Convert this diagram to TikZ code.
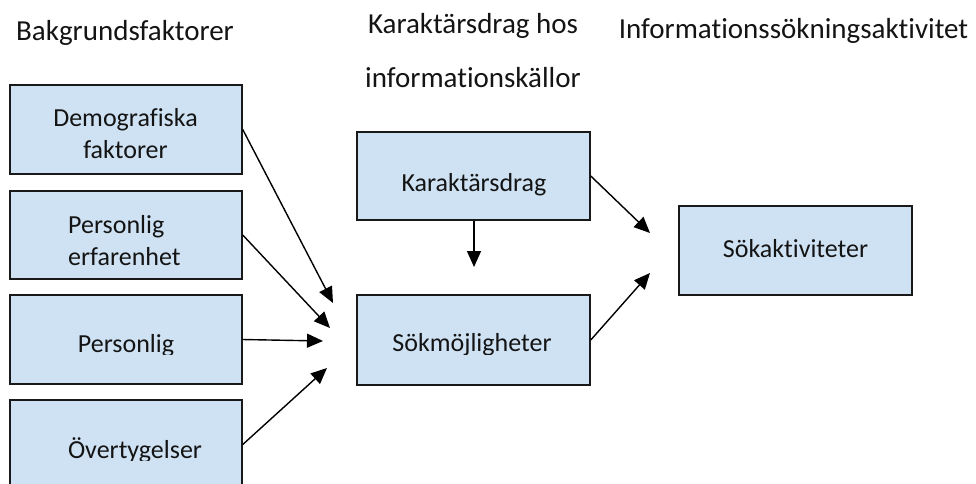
\documentclass[tikz,border=0pt]{standalone}
\usepackage{fontspec}
\setmainfont{Carlito}[Ligatures={NoCommon}]
\usetikzlibrary{arrows.meta}
\definecolor{boxfill}{RGB}{207,226,243}
\definecolor{boxline}{RGB}{25,25,25}
\definecolor{txt}{RGB}{20,20,20}
\tikzset{
  box/.style={draw=boxline, fill=boxfill, line width=1.5pt, rectangle, inner sep=0pt},
  bw/.style={minimum width=232pt},
  boxtxt/.style={font=\fontsize{26}{32}\selectfont, text=txt, anchor=base, inner sep=0pt},
  titletxt/.style={font=\fontsize{29}{35}\selectfont, text=txt, anchor=base, inner sep=0pt},
  arr/.style={draw=black, line width=1.4pt, -{Triangle[length=16pt,width=14pt]}}
}
\begin{document}
\begin{tikzpicture}[x=1pt,y=-1pt]
\clip (0,0) rectangle (976,483);
% titles
\node[titletxt] (h1) at (125,40) {Bakgrundsfaktorer};
\node[titletxt] (h2a) at (473,33) {Karaktärsdrag hos};
\node[titletxt] (h2b) at (473,87) {informationskällor};
\begin{scope}
\clip (600,0) rectangle (976,43);
\node[titletxt] (h3) at (793.5,38) {Informationssökningsaktivitet};
\end{scope}
% boxes
\node[box, bw, minimum height=89pt] (b1) at (126,129.5) {};
\node[box, bw, minimum height=88pt] (b2) at (126,235) {};
\node[box, bw, minimum height=89pt] (b3) at (126,339.5) {};
\node[box, bw, minimum height=89pt] (b4) at (126,444.5) {};
\node[box, minimum width=233pt, minimum height=88pt] (k) at (473.5,176) {};
\node[box, minimum width=233pt, minimum height=90pt] (s) at (473.5,340) {};
\node[box, minimum width=233pt, minimum height=89pt] (a) at (795.5,250.5) {};
% box texts
\node[boxtxt] (t1a) at (125.5,126) {Demografiska};
\node[boxtxt] (t1b) at (125.5,158) {faktorer};
\node[boxtxt, anchor=base west] (t2a) at (68,233) {Personlig};
\node[boxtxt, anchor=base west] (t2b) at (68,265) {erfarenhet};
\begin{scope}
\clip (0,0) rectangle (600,354.5);
\node[boxtxt] (t3) at (126,352) {Personlig};
\node[boxtxt] (ts) at (472,351.5) {Sökmöjligheter};
\end{scope}
\begin{scope}
\clip (0,390) rectangle (300,460);
\node[boxtxt] (t4) at (135,458) {Övertygelser};
\end{scope}
\node[boxtxt] (tk) at (474,191) {Karaktärsdrag};
\node[boxtxt] (ta) at (795.5,257) {Sökaktiviteter};
% arrow ends
\coordinate (e1) at (333,303);
\coordinate (e2) at (330,328);
\coordinate (e3) at (323,341);
\coordinate (e4) at (327,368);
\coordinate (e5) at (474,267);
\coordinate (e6) at (650,233);
\coordinate (e7) at (650,273);
% arrows
\draw[arr] (b1.east) -- (e1);
\draw[arr] (b2.east) -- (e2);
\draw[arr] (b3.east) -- (e3);
\draw[arr] (b4.east) -- (e4);
\draw[arr] (k.south -| e5) -- (e5);
\draw[arr] (k.east) -- (e6);
\draw[arr] (s.east) -- (e7);
\end{tikzpicture}
\end{document}
